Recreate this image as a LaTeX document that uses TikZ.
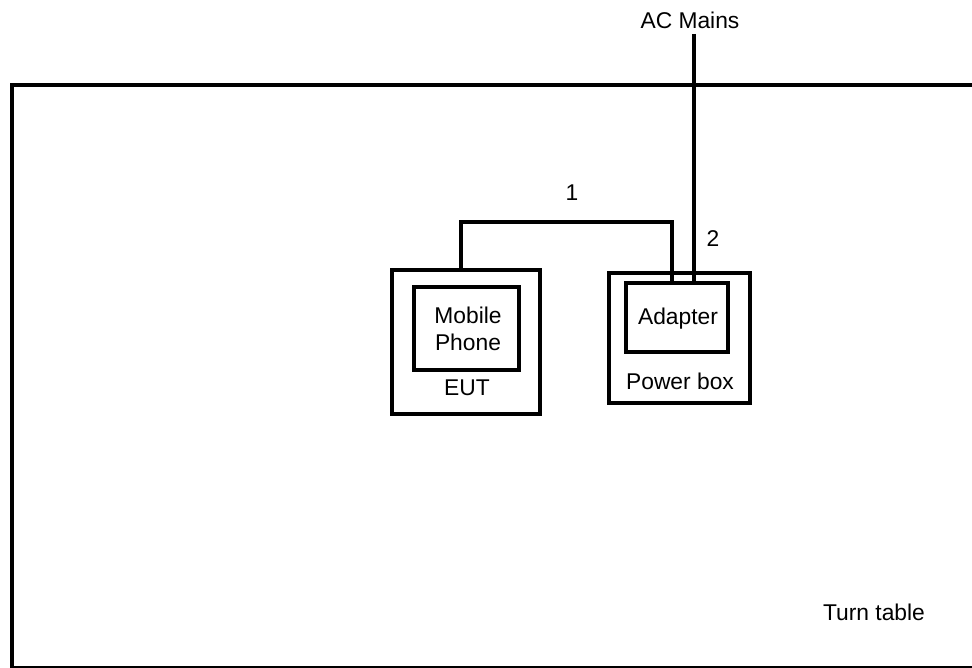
\documentclass[tikz,border=0pt]{standalone}
\usepackage{fontspec}
\setmainfont{Liberation Sans}
\begin{document}
\begin{tikzpicture}[x=1pt,y=-1pt,
  box/.style={draw=black,line width=3.8pt,rectangle,inner sep=0pt},
  lbl/.style={font=\fontsize{22.8}{27}\selectfont,text=black,inner sep=0pt},
  cable/.style={draw=black,line width=3.8pt}]
\clip (0,0) rectangle (972,668);
\fill[white] (0,0) rectangle (972,668);
% turn table
\node[box,anchor=north west,minimum width=990pt,minimum height=583pt] (table) at (10,83) {};
\node[lbl] (tt) at (874,612) {Turn table};
% EUT
\node[box,minimum width=148pt,minimum height=144pt] (eut) at (466,342) {};
\node[box,minimum width=105pt,minimum height=83pt] (phone) at (466.5,328.5) {};
\node[lbl,align=center] (phonetext) at (468,329) {Mobile\\Phone};
\node[lbl] (euttext) at (467,388) {EUT};
% power box
\node[box,minimum width=141pt,minimum height=130pt] (pbox) at (679.5,338) {};
\node[box,minimum width=102pt,minimum height=69pt] (adapter) at (677,317.5) {};
\node[lbl] (adtext) at (678,319) {Adapter};
\node[lbl] (pbtext) at (680,381) {Power box};
% cables
\coordinate (bend) at (560,222);
\coordinate (mains) at (694,34);
\draw[cable] ([xshift=-5pt]eut.north) |- (bend) -| ([xshift=-5pt]adapter.north);
\draw[cable] (mains) -- (mains |- adapter.north);
\node[lbl] (acm) at (690,20) {AC Mains};
\node[lbl] (n1) at (572,193) {1};
\node[lbl] (n2) at (713,239) {2};
\end{tikzpicture}
\end{document}
